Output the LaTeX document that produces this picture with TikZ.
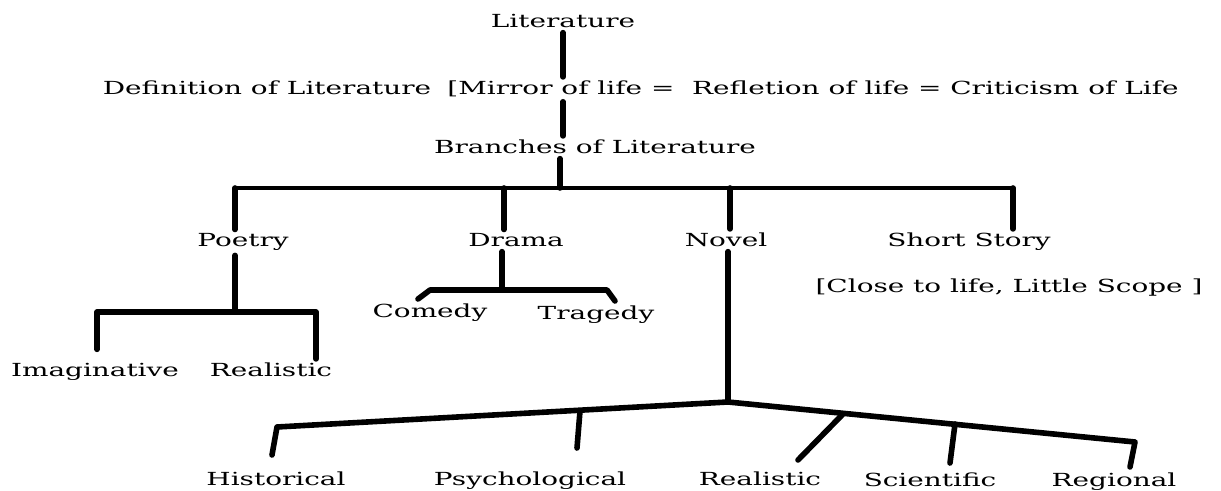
\documentclass[tikz,border=0pt]{standalone}
\usepackage{fontspec}
\setmainfont{DejaVu Serif}
\newcommand{\widetxt}[1]{\scalebox{1.55}[1]{#1}}
\tikzset{
  lbl/.style={inner xsep=0pt,inner ysep=2pt,anchor=base,font=\fontsize{9}{11}\selectfont},
  limb/.style={line width=2.8pt,line cap=round,line join=round},
  rail/.style={line width=2pt,line cap=round,line join=round},
}

\begin{document}
\begin{tikzpicture}[x=0.5pt,y=-0.5pt]
\useasboundingbox (0,0) rectangle (1221,491);
% ---------- the texts ----------
\node[lbl] (lit) at (563,28) {\widetxt{Literature}};
\node[lbl] (defn) at (267,95) {\widetxt{Definition of Literature}};
\node[lbl] (mirror) at (813,95) {\widetxt{[Mirror of life = \ Refletion of life = Criticism of Life}};
\node[lbl] (branches) at (595,154) {\widetxt{Branches of Literature}};
\foreach \nm/\x/\y/\txt in {poetry/243/247/Poetry, drama/516/247/Drama, novel/726/247/Novel,
                            story/969/247/{Short Story}, close/1009/293/{[Close to life, Little Scope ]},
                            comedy/430/318/Comedy, tragedy/596/320/Tragedy,
                            imag/95/377/Imaginative, preal/271/377/Realistic,
                            hist/276/486/Historical, psych/530/486/Psychological, nreal/760/486/Realistic,
                            sci/930/487/Scientific, regio/1114/487/Regional}{
  \node[lbl] (\nm) at (\x,\y) {\widetxt{\txt}};
}
% ---------- junctions ----------
\foreach \nm/\x/\y in {b1/235/188, bs/560/188, b2/504/188, b3/730/188, b4/1013/188,
                       p1/97/312, p0/235/312, p2/316/312,
                       d0/502/290, dl/418/299, dl1/430/290, dr1/607/290, dr/615/301,
                       n0/728/402, h1/277/427, h2/272/455, r1/1135/442, r2/1130/467,
                       ps1/580/411, ps2/577/448, re1/843/414, re2/798/460, sc1/955/424, sc2/950/463}{
  \coordinate (\nm) at (\x,\y);
}
% ---------- the spine ----------
\draw[limb] (lit.south) -- (lit.south |- mirror.north);
\draw[limb] (lit.south |- mirror.south) -- (lit.south |- branches.north);
\draw[limb] (branches.south -| bs) -- (bs);
\draw[rail] (b1) -- (b4);
\draw[limb] (b1) -- (b1 |- poetry.north);
\draw[limb] (b2) -- (b2 |- drama.north);
\draw[limb] (b3) -- (b3 |- novel.north);
\draw[limb] (b4) -- (b4 |- story.north);
% ---------- poetry and drama ----------
\draw[limb] (poetry.south -| p0) -- (p0);
\draw[limb,shorten <=5pt] (p1 |- imag.north) -- (p1) -- (p2) -- (p2 |- preal.north);
\draw[limb] (drama.south -| d0) -- (d0);
\draw[limb] (dl) -- (dl1) -- (dr1) -- (dr);
% ---------- novel ----------
\draw[limb] (novel.south -| n0) -- (n0);
\draw[limb] (h2) -- (h1) -- (n0) -- (r1) -- (r2);
\draw[limb] (ps1) -- (ps2);
\draw[limb] (re1) -- (re2);
\draw[limb] (sc1) -- (sc2);
\end{tikzpicture}
\end{document}
